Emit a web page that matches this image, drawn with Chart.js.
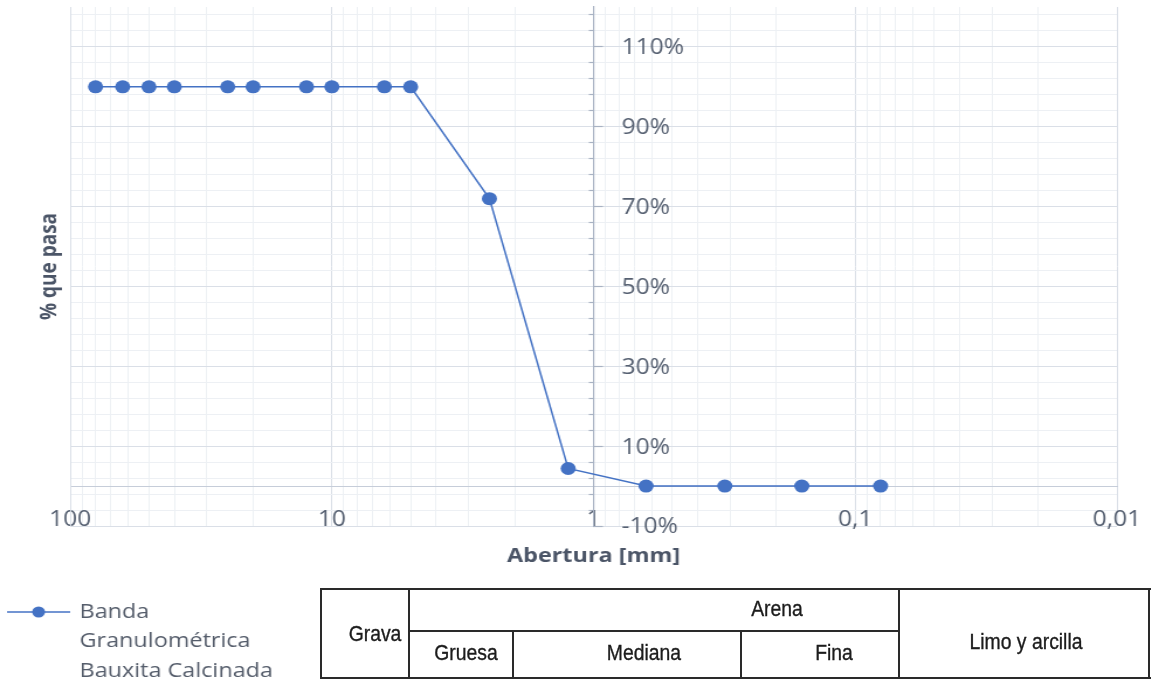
<!DOCTYPE html>
<html><head><meta charset="utf-8">
<script src="https://cdn.jsdelivr.net/npm/chart.js@4/dist/chart.umd.min.js"></script>
<style>
html,body{margin:0;padding:0;background:#fff}
#wrap{position:relative;width:1152px;height:679px;overflow:hidden;background:#fff}
#c{position:absolute;left:0;top:0;width:1152px;height:679px}
.ln{position:absolute;background:#2a2a2a}
.lb{position:absolute;font-family:"Liberation Sans",Arial,sans-serif;font-size:22px;line-height:1;color:#1c1c1c;white-space:nowrap;-webkit-text-stroke:0.35px #1c1c1c;transform:translate(-50%,-50%) scaleX(0.88)}
</style></head>
<body><div id="wrap">
<canvas id="c" width="985" height="679" style="width:1152px;height:679px"></canvas>
<div class="ln" style="left:320px;top:588px;width:831px;height:2px"></div>
<div class="ln" style="left:320px;top:588px;width:2px;height:92px"></div>
<div class="ln" style="left:1148px;top:588px;width:2px;height:92px"></div>
<div class="ln" style="left:320px;top:677px;width:831px;height:2px"></div>
<div class="ln" style="left:408px;top:588px;width:2px;height:92px"></div>
<div class="ln" style="left:408px;top:630px;width:492px;height:2px"></div>
<div class="ln" style="left:512px;top:630px;width:2px;height:50px"></div>
<div class="ln" style="left:740px;top:630px;width:2px;height:50px"></div>
<div class="ln" style="left:898px;top:588px;width:2px;height:92px"></div>
<div class="lb" style="left:375px;top:634px">Grava</div>
<div class="lb" style="left:777px;top:609px">Arena</div>
<div class="lb" style="left:466px;top:653px">Gruesa</div>
<div class="lb" style="left:644px;top:653px">Mediana</div>
<div class="lb" style="left:834px;top:653px">Fina</div>
<div class="lb" style="left:1026px;top:642px">Limo y arcilla</div>
</div>
<script>
// ---- data ----
const apertures = [80, 63, 50, 40, 25, 20, 12.5, 10, 6.3, 5, 2.5, 1.25, 0.63, 0.315, 0.16, 0.08];
const passing   = [100, 100, 100, 100, 100, 100, 100, 100, 100, 100, 72, 4.4, 0, 0, 0, 0];
const seriesLabel = ['Banda', 'Granulométrica', 'Bauxita Calcinada'];
const xTitle = 'Abertura [mm]';
const yTitle = '% que pasa';
const xTickValues = [100, 90, 80, 70, 60, 50, 40, 30, 20, 10, 9, 8, 7, 6, 5, 4, 3, 2, 1,
  0.9, 0.8, 0.7, 0.6, 0.5, 0.4, 0.3, 0.2, 0.1, 0.09, 0.08, 0.07, 0.06, 0.05, 0.04, 0.03, 0.02, 0.01];
const xMajorValues = [100, 10, 1, 0.1, 0.01];
const xMajorLabels = ['100', '10', '1', '0,1', '0,01'];
const yTickValues = [-10, -6, -2, 2, 6, 10, 14, 18, 22, 26, 30, 34, 38, 42, 46, 50, 54, 58, 62, 66,
  70, 74, 78, 82, 86, 90, 94, 98, 102, 106, 110, 114, 118];
const yMajorValues = [-10, 10, 30, 50, 70, 90, 110];
const yMajorLabels = ['-10%', '10%', '30%', '50%', '70%', '90%', '110%'];
const yAxisCrossAt = 1;

// ---- styles ----
const blue = '#4472C4';
const tickColor = '#566071';
const titleColor = '#4b5567';
const majorGrid = '#dadfe7';
const minorGrid = '#edf0f4';

const legendIcon = document.createElement('canvas');
legendIcon.width = 54; legendIcon.height = 14;
(function(){
  const g = legendIcon.getContext('2d');
  g.strokeStyle = blue; g.lineWidth = 1.5;
  g.beginPath(); g.moveTo(0, 7); g.lineTo(54, 7); g.stroke();
  g.fillStyle = blue; g.beginPath(); g.arc(27, 7, 5.5, 0, Math.PI * 2); g.fill();
})();

const setXTicks = s => { s.ticks = xTickValues.map(v => ({value: v, major: xMajorValues.includes(v)})); };
const setYTicks = s => { s.ticks = yTickValues.map(v => ({value: v, major: yMajorValues.includes(v)})); };

// labels of the axis that crosses at x = 1 are drawn to its right
const crossLabels = {
  id: 'crossLabels',
  afterLayout(chart) {
    // let the 3-line legend label show fully (legend clips to its own box)
    const lg = chart.legend;
    if (lg) { lg.height = 90; lg.bottom = lg.top + 90; }
  },
  afterDraw(chart) {
    const {ctx} = chart;
    const xs = chart.scales.x, ys = chart.scales.y2;
    const px = xs.getPixelForValue(yAxisCrossAt) + 24;
    ctx.save();
    ctx.font = '21px "Open Sans"';
    ctx.fillStyle = tickColor;
    ctx.textAlign = 'left';
    ctx.textBaseline = 'middle';
    ys.ticks.forEach(t => {
      const i = yMajorValues.indexOf(t.value);
      if (i >= 0) ctx.fillText(yMajorLabels[i], px, ys.getPixelForValue(t.value) + 1.5);
    });
    ctx.restore();
  }
};

new Chart(document.getElementById('c'), {
  type: 'scatter',
  data: {
    datasets: [{
      label: seriesLabel.join(' '),
      data: apertures.map((a, i) => ({x: a, y: passing[i]})),
      showLine: true,
      borderColor: blue,
      backgroundColor: blue,
      borderWidth: 1.5,
      pointRadius: 6.5,
      pointHoverRadius: 6.5,
      pointBorderWidth: 0,
      xAxisID: 'x',
      yAxisID: 'y'
    }]
  },
  options: {
    responsive: false,
    animation: false,
    devicePixelRatio: 1,
    layout: {padding: {top: 7, right: 30, left: 0, bottom: 47}},
    plugins: {
      tooltip: {enabled: false},
      legend: {
        position: 'bottom',
        align: 'start',
        labels: {
          usePointStyle: true,
          pointStyleWidth: 50,
          padding: 8,
          color: '#555d6b',
          font: {family: 'Open Sans', size: 20, lineHeight: 1.475},
          generateLabels: () => [{
            text: seriesLabel,
            fillStyle: blue, strokeStyle: blue, lineWidth: 0,
            pointStyle: legendIcon, hidden: false, datasetIndex: 0, fontColor: '#555d6b'
          }]
        }
      }
    },
    scales: {
      x: {
        type: 'logarithmic',
        reverse: true,
        min: 0.01, max: 100,
        position: {y: 0},
        afterBuildTicks: setXTicks,
        ticks: {
          autoSkip: false, maxRotation: 0, padding: 0,
          color: tickColor,
          font: {family: 'Open Sans', size: 21},
          callback: v => { const i = xMajorValues.indexOf(v); return i >= 0 ? xMajorLabels[i] : ''; }
        },
        grid: {
          drawTicks: true, tickLength: 21, tickColor: 'rgba(0,0,0,0)',
          color: c => (c.tick && xMajorValues.includes(c.tick.value)) ? majorGrid : minorGrid,
          lineWidth: 1
        },
        border: {display: true, color: '#c6cdd9', width: 1}
      },
      x2: {
        axis: 'x',
        type: 'linear',
        position: 'bottom',
        afterFit: s => { s.height = 68; },
        ticks: {display: false},
        grid: {display: false, drawTicks: false},
        border: {display: false},
        title: {
          display: true, text: xTitle, color: titleColor,
          font: {family: 'Open Sans', size: 20, weight: 'bold', lineHeight: 1.2},
          padding: {top: 0, bottom: 26}
        }
      },
      y: {
        type: 'linear',
        position: 'left',
        min: -10, max: 120,
        afterBuildTicks: setYTicks,
        afterFit: s => { s.width = 60; },
        ticks: {display: false},
        grid: {
          drawTicks: false,
          color: c => (c.tick && yMajorValues.includes(c.tick.value)) ? majorGrid : minorGrid,
          lineWidth: 1
        },
        border: {display: true, color: majorGrid},
        title: {
          display: true, text: yTitle, color: titleColor,
          font: {family: 'Open Sans', size: 19, weight: 'bold', lineHeight: 1.2},
          padding: {top: 31, bottom: 0}
        }
      },
      y2: {
        type: 'linear',
        position: {x: yAxisCrossAt},
        min: -10, max: 120,
        afterBuildTicks: setYTicks,
        ticks: {display: false},
        grid: {
          display: true, drawOnChartArea: false, drawTicks: true, tickLength: -8.5,
          tickColor: c => (c.tick && yMajorValues.includes(c.tick.value)) ? '#a8b2c3' : 'rgba(0,0,0,0)',
          tickWidth: 1.2
        },
        border: {display: true, color: '#a8b2c3', width: 1.2}
      },
      y3: {
        type: 'linear',
        position: {x: yAxisCrossAt},
        min: -10, max: 120,
        afterBuildTicks: setYTicks,
        ticks: {display: false},
        grid: {
          display: true, drawOnChartArea: false, drawTicks: true, tickLength: 4.5,
          tickColor: c => (c.tick && !yMajorValues.includes(c.tick.value)) ? '#a8b2c3' : 'rgba(0,0,0,0)',
          tickWidth: 1.2
        },
        border: {display: false}
      }
    }
  },
  plugins: [crossLabels]
});
</script>
</body></html>
